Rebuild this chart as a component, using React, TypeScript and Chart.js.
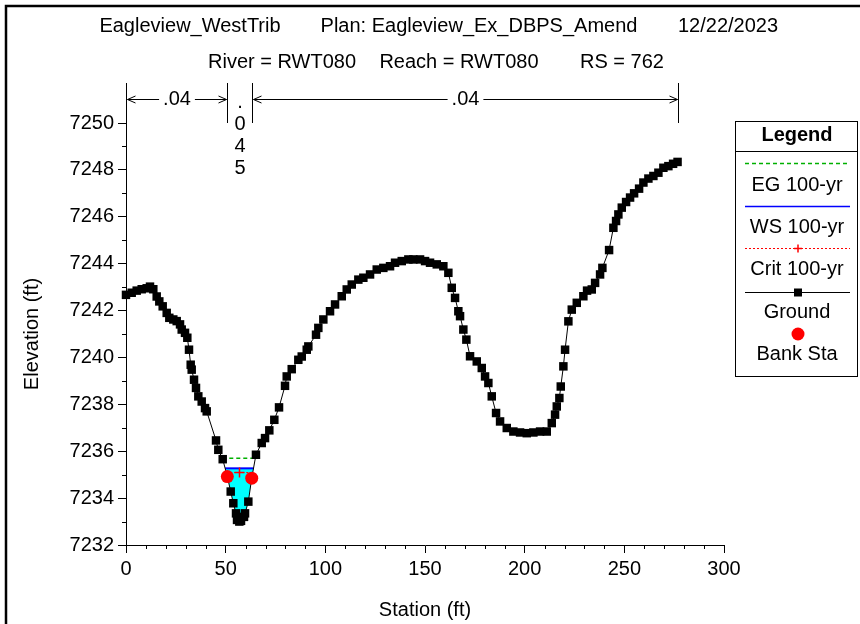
import React, { useEffect, useRef } from 'react';
import { Chart, registerables } from 'chart.js';

Chart.register(...registerables);

const FONT = 'Arial, "Liberation Sans", Helvetica, sans-serif';

// ---- data ----
const groundSta = [
  0, 2.86, 5.37, 7.88, 10.39, 12.04, 13.7, 15.4, 16.71, 18.41, 20.42, 21.73, 23.73, 25.44, 27.1, 27.95,
  29.6, 30.76, 31.61, 32.46, 32.96, 34.12, 35.12, 36.28, 37.98, 39.64, 40.49, 45.16, 46.31, 48.52, 50.83,
  52.53, 53.84, 55.19, 55.7, 56.85, 57.7, 59.2, 59.71, 61.37, 63.07, 65.2, 68.09, 69.75, 71.9, 74.41,
  76.77, 79.78, 80.63, 83.14, 86.45, 88.16, 90.67, 91.47, 95.33, 96.49, 99.0, 102.36, 104.87, 108.23,
  110.74, 113.25, 116.56, 119.07, 122.43, 125.79, 129.1, 132.46, 134.97, 138.33, 141.65, 144.15, 147.52,
  150.03, 152.53, 155.9, 159.21, 161.72, 163.42, 165.08, 166.73, 167.59, 169.24, 170.75, 172.6, 175.97,
  178.48, 180.13, 181.79, 183.49, 185.65, 187.66, 191.02, 194.33, 197.69, 201.05, 204.37, 207.73, 211.09,
  213.6, 215.25, 216.11, 217.41, 218.11, 219.42, 220.27, 221.93, 223.63, 226.14, 229.45, 231.3, 233.67,
  235.33, 237.83, 238.99, 242.35, 244.51, 245.86, 247.01, 248.72, 250.88, 252.88, 254.9, 257.4, 259.56,
  262.07, 264.58, 267.09, 269.59, 272.1, 274.46, 276.7,
];
const groundElev = [
  7242.67, 7242.76, 7242.85, 7242.91, 7242.95, 7243.02, 7242.91, 7242.6, 7242.39, 7242.18, 7241.9, 7241.69,
  7241.62, 7241.55, 7241.41, 7241.19, 7241.05, 7240.84, 7240.33, 7239.69, 7239.48, 7239.05, 7238.7, 7238.34,
  7238.12, 7237.84, 7237.7, 7236.46, 7236.06, 7235.66, 7234.92, 7234.28, 7233.78, 7233.35, 7233.07, 7233.0,
  7233.03, 7233.2, 7233.35, 7233.85, 7234.85, 7235.85, 7236.35, 7236.56, 7236.89, 7237.34, 7237.87, 7238.79,
  7239.19, 7239.5, 7239.9, 7240.04, 7240.33, 7240.47, 7240.97, 7241.26, 7241.62, 7241.97, 7242.26, 7242.61,
  7242.9, 7243.11, 7243.32, 7243.4, 7243.54, 7243.75, 7243.82, 7243.89, 7244.04, 7244.11, 7244.18, 7244.18,
  7244.18, 7244.11, 7244.04, 7243.97, 7243.89, 7243.61, 7242.97, 7242.54, 7241.97, 7241.76, 7241.19, 7240.76,
  7240.05, 7239.83, 7239.55, 7239.19, 7238.91, 7238.34, 7237.63, 7237.27, 7236.99, 7236.84, 7236.8, 7236.77,
  7236.8, 7236.84, 7236.84, 7237.2, 7237.56, 7237.91, 7238.27, 7238.76, 7239.62, 7240.33, 7241.54, 7242.04,
  7242.33, 7242.61, 7242.85, 7242.9, 7243.18, 7243.54, 7243.82, 7244.58, 7245.53, 7245.82, 7246.1, 7246.39,
  7246.63, 7246.82, 7247.0, 7247.2, 7247.46, 7247.63, 7247.74, 7247.88, 7248.09, 7248.16, 7248.26, 7248.34,
];
const bankSta = [50.83, 63.07];
const wsElev = 7235.27;
const egElev = 7235.7;
const critElev = 7235.09;
const manningN = ['.04', '.045', '.04'];
const titleLine1 = ['Eagleview_WestTrib', 'Plan: Eagleview_Ex_DBPS_Amend', '12/22/2023'];
const titleLine2 = ['River = RWT080', 'Reach = RWT080', 'RS = 762'];
const legendLabels = ['EG 100-yr', 'WS 100-yr', 'Crit 100-yr', 'Ground', 'Bank Sta'];
const xAxisTitle = 'Station (ft)';
const yAxisTitle = 'Elevation (ft)';
const xRange = [0, 300];
const xTickStep = 50;
const xMinorStep = 10;
const yRange = [7232, 7250];
const yTickStep = 2;
const yMinorStep = 1;

// ---- helpers ----
function groundAt(s: number): number {
  for (let i = 0; i < groundSta.length - 1; i++) {
    if (s >= groundSta[i] && s <= groundSta[i + 1]) {
      const f = (s - groundSta[i]) / (groundSta[i + 1] - groundSta[i]);
      return groundElev[i] + f * (groundElev[i + 1] - groundElev[i]);
    }
  }
  return groundElev[groundElev.length - 1];
}

function crossings(level: number): [number, number] {
  let iMin = 0;
  for (let i = 1; i < groundElev.length; i++) if (groundElev[i] < groundElev[iMin]) iMin = i;
  let i = iMin;
  while (i > 0 && groundElev[i - 1] < level) i--;
  const a = i - 1;
  const l = groundSta[a] + ((groundElev[a] - level) / (groundElev[a] - groundElev[i])) * (groundSta[i] - groundSta[a]);
  let j = iMin;
  while (j < groundElev.length - 1 && groundElev[j + 1] < level) j++;
  const b = j + 1;
  const r = groundSta[j] + ((level - groundElev[j]) / (groundElev[b] - groundElev[j])) * (groundSta[b] - groundSta[j]);
  return [l, r];
}

export default function App() {
  const ref = useRef<HTMLCanvasElement | null>(null);

  useEffect(() => {
    const canvas = ref.current;
    if (!canvas) return;

    const ground = groundSta.map((s, i) => ({ x: s, y: groundElev[i] }));
    const [wsL, wsR] = crossings(wsElev);
    const [egL, egR] = crossings(egElev);
    const [crL, crR] = crossings(critElev);
    const water = [
      { x: wsL, y: wsElev },
      ...ground.filter((p) => p.x > wsL && p.x < wsR),
      { x: wsR, y: wsElev },
    ];
    const banks = bankSta.map((s) => ({ x: s, y: groundAt(s) }));

    const overlay = {
      id: 'overlay',
      afterDraw(chart: any) {
        const ctx = chart.ctx as CanvasRenderingContext2D;
        const xs = chart.scales.x;
        const ys = chart.scales.y;
        const area = chart.chartArea;
        ctx.save();

        // outer frame
        ctx.strokeStyle = '#000';
        ctx.lineWidth = 2.5;
        ctx.strokeRect(6, 6, 900, 700);

        // minor ticks
        ctx.lineWidth = 1;
        ctx.beginPath();
        for (let v = xRange[0]; v <= xRange[1]; v += xMinorStep) {
          if (v % xTickStep === 0) continue;
          const px = Math.round(xs.getPixelForValue(v)) + 0.5;
          ctx.moveTo(px, area.bottom);
          ctx.lineTo(px, area.bottom + 4);
        }
        for (let v = yRange[0]; v <= yRange[1]; v += yMinorStep) {
          if ((v - yRange[0]) % yTickStep === 0) continue;
          const py = Math.round(ys.getPixelForValue(v)) + 0.5;
          ctx.moveTo(area.left - 4, py);
          ctx.lineTo(area.left, py);
        }
        ctx.stroke();

        // titles
        ctx.fillStyle = '#000';
        ctx.font = `20px ${FONT}`;
        ctx.textAlign = 'center';
        ctx.textBaseline = 'middle';
        const t1x = [190, 479, 728];
        const t2x = [282, 459, 622];
        titleLine1.forEach((t, i) => ctx.fillText(t, t1x[i], 26));
        titleLine2.forEach((t, i) => ctx.fillText(t, t2x[i], 62));

        // Manning n brackets
        const breaks = [groundSta[0], bankSta[0], bankSta[1], groundSta[groundSta.length - 1]];
        const bpx = breaks.map((s) => Math.round(xs.getPixelForValue(s)) + 0.5);
        const ay = 99.5;
        ctx.beginPath();
        bpx.forEach((px) => {
          ctx.moveTo(px, 83);
          ctx.lineTo(px, area.top);
        });
        ctx.stroke();
        for (let k = 0; k < manningN.length; k++) {
          const x0 = bpx[k];
          const x1 = bpx[k + 1];
          const mid = (x0 + x1) / 2;
          const label = manningN[k];
          const w = ctx.measureText(label).width;
          if (w + 30 < x1 - x0) {
            ctx.beginPath();
            ctx.moveTo(x0 + 1, ay);
            ctx.lineTo(mid - w / 2 - 4, ay);
            ctx.moveTo(mid + w / 2 + 4, ay);
            ctx.lineTo(x1 - 1, ay);
            // arrowheads
            ctx.moveTo(x0 + 9, ay - 3.5);
            ctx.lineTo(x0 + 1, ay);
            ctx.lineTo(x0 + 9, ay + 3.5);
            ctx.moveTo(x1 - 9, ay - 3.5);
            ctx.lineTo(x1 - 1, ay);
            ctx.lineTo(x1 - 9, ay + 3.5);
            ctx.stroke();
            ctx.fillText(label, mid, ay);
          } else {
            label.split('').forEach((ch, i) => ctx.fillText(ch, mid, 102 + i * 22));
          }
        }

        // legend
        const lx0 = 735.5;
        const lx1 = 857.5;
        const lcx = 797;
        ctx.strokeStyle = '#000';
        ctx.lineWidth = 1;
        ctx.strokeRect(lx0, 121.5, lx1 - lx0, 255);
        ctx.beginPath();
        ctx.moveTo(lx0, 151.5);
        ctx.lineTo(lx1, 151.5);
        ctx.stroke();
        ctx.font = `bold 20px ${FONT}`;
        ctx.fillText('Legend', lcx, 135);
        ctx.font = `20px ${FONT}`;
        const lineYs = [163.5, 206.5, 248.5, 292.5];
        const textYs = [185, 227, 269, 312, 354];
        const lineX0 = 745;
        const lineX1 = 850;
        // EG
        ctx.save();
        ctx.strokeStyle = '#00b000';
        ctx.lineWidth = 1.5;
        ctx.setLineDash([4, 3]);
        ctx.beginPath();
        ctx.moveTo(lineX0, lineYs[0]);
        ctx.lineTo(lineX1, lineYs[0]);
        ctx.stroke();
        ctx.restore();
        // WS
        ctx.save();
        ctx.strokeStyle = '#0000ff';
        ctx.lineWidth = 1.5;
        ctx.beginPath();
        ctx.moveTo(lineX0, lineYs[1]);
        ctx.lineTo(lineX1, lineYs[1]);
        ctx.stroke();
        ctx.restore();
        // Crit
        ctx.save();
        ctx.strokeStyle = '#ff0000';
        ctx.setLineDash([2, 2]);
        ctx.beginPath();
        ctx.moveTo(lineX0, lineYs[2]);
        ctx.lineTo(lineX1, lineYs[2]);
        ctx.stroke();
        ctx.setLineDash([]);
        ctx.lineWidth = 1.5;
        ctx.beginPath();
        ctx.moveTo(lcx + 1 - 4, lineYs[2]);
        ctx.lineTo(lcx + 1 + 4, lineYs[2]);
        ctx.moveTo(lcx + 1, lineYs[2] - 4);
        ctx.lineTo(lcx + 1, lineYs[2] + 4);
        ctx.stroke();
        ctx.restore();
        // Ground
        ctx.beginPath();
        ctx.moveTo(lineX0, lineYs[3]);
        ctx.lineTo(lineX1, lineYs[3]);
        ctx.stroke();
        ctx.fillRect(lcx - 3, lineYs[3] - 4, 8, 8);
        // Bank
        ctx.fillStyle = '#ff0000';
        ctx.beginPath();
        ctx.arc(lcx + 1, 334, 6.5, 0, Math.PI * 2);
        ctx.fill();
        ctx.fillStyle = '#000';
        legendLabels.forEach((t, i) => ctx.fillText(t, lcx, textYs[i]));

        ctx.restore();
      },
    };

    const chart = new Chart(canvas, {
      type: 'line',
      data: {
        datasets: [
          {
            label: 'water',
            data: water,
            borderWidth: 0,
            borderColor: 'rgba(0,0,0,0)',
            backgroundColor: '#00ffff',
            pointRadius: 0,
            fill: { value: wsElev },
            order: 10,
          },
          {
            label: legendLabels[0],
            data: [
              { x: egL, y: egElev },
              { x: egR, y: egElev },
            ],
            borderColor: '#00b000',
            borderWidth: 1.5,
            borderDash: [4, 3],
            pointRadius: 0,
            fill: false,
            order: 4,
          },
          {
            label: legendLabels[1],
            data: [
              { x: wsL, y: wsElev },
              { x: wsR, y: wsElev },
            ],
            borderColor: '#0000ff',
            borderWidth: 2,
            pointRadius: 0,
            fill: false,
            order: 3,
          },
          {
            label: legendLabels[2],
            data: [
              { x: crL, y: critElev },
              { x: (crL + crR) / 2, y: critElev },
              { x: crR, y: critElev },
            ],
            borderColor: '#ff0000',
            borderWidth: 1,
            borderDash: [2, 2],
            pointStyle: 'cross',
            pointRadius: (c: any) => (c.dataIndex === 1 ? 5 : 0),
            pointBorderColor: '#ff0000',
            pointBorderWidth: 1.5,
            fill: false,
            order: 2,
          },
          {
            label: legendLabels[3],
            data: ground,
            borderColor: '#000',
            borderWidth: 1,
            pointStyle: 'rect',
            pointRadius: 6,
            pointBackgroundColor: '#000',
            pointBorderColor: '#000',
            pointBorderWidth: 0,
            fill: false,
            clip: false,
            order: 1,
          },
          {
            label: legendLabels[4],
            data: banks,
            showLine: false,
            pointStyle: 'circle',
            pointRadius: 6.5,
            pointBackgroundColor: '#ff0000',
            pointBorderColor: '#ff0000',
            pointBorderWidth: 0,
            fill: false,
            clip: false,
            order: 0,
          },
        ],
      },
      options: {
        responsive: false,
        animation: false,
        devicePixelRatio: 1,
        layout: { padding: { left: 0, top: 123, right: 136, bottom: 0 } },
        elements: { line: { tension: 0 } },
        plugins: {
          legend: { display: false },
          tooltip: { enabled: false },
          title: { display: false },
        },
        scales: {
          x: {
            type: 'linear',
            min: xRange[0],
            max: xRange[1],
            afterFit: (s: any) => {
              s.height = 79;
            },
            grid: { drawOnChartArea: false, drawTicks: true, tickLength: 8, color: '#000' },
            border: { display: true, color: '#000', width: 1 },
            ticks: {
              stepSize: xTickStep,
              autoSkip: false,
              maxRotation: 0,
              padding: 4,
              color: '#000',
              font: { family: FONT, size: 20 },
              callback: (v: any) => String(v),
            },
            title: {
              display: true,
              text: xAxisTitle,
              color: '#000',
              font: { family: FONT, size: 20 },
              padding: { top: 0, bottom: 2 },
            },
          },
          y: {
            type: 'linear',
            min: yRange[0],
            max: yRange[1],
            afterFit: (s: any) => {
              s.width = 126;
            },
            grid: { drawOnChartArea: false, drawTicks: true, tickLength: 8, color: '#000' },
            border: { display: true, color: '#000', width: 1 },
            ticks: {
              stepSize: yTickStep,
              autoSkip: false,
              padding: 4,
              color: '#000',
              font: { family: FONT, size: 20 },
              callback: (v: any) => String(v),
            },
            title: {
              display: true,
              text: yAxisTitle,
              color: '#000',
              font: { family: FONT, size: 20 },
              padding: { top: 20, bottom: 0 },
            },
          },
        },
      } as any,
      plugins: [overlay],
    });

    return () => chart.destroy();
  }, []);

  return (
    <div style={{ position: 'absolute', left: 0, top: 0, width: 860, height: 624, background: '#fff' }}>
      <canvas ref={ref} width={860} height={624} style={{ display: 'block', width: 860, height: 624 }} />
    </div>
  );
}
